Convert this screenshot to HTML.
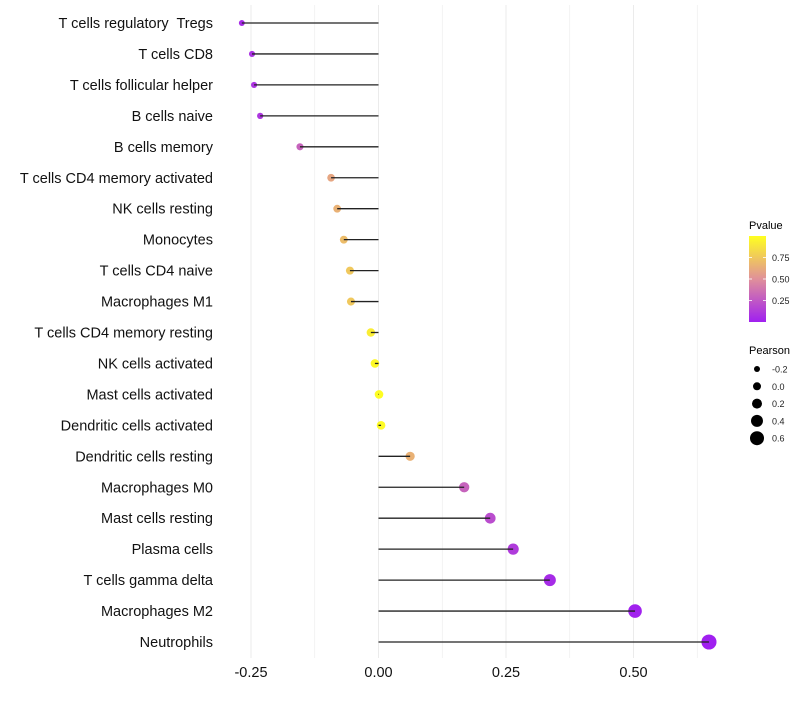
<!DOCTYPE html>
<html><head><meta charset="utf-8"><style>
body{margin:0;background:#fff;}
svg text{font-family:"Liberation Sans",Arial,sans-serif;white-space:pre;}
</style></head><body>
<svg id="chart" width="800" height="700" xmlns="http://www.w3.org/2000/svg">
<defs>
<linearGradient id="pgrad" x1="0" y1="1" x2="0" y2="0">
<stop offset="0" stop-color="#a020f0"/>
<stop offset="0.5" stop-color="#e0909a"/>
<stop offset="1" stop-color="#ffff20"/>
</linearGradient>
</defs>
<g id="grid"></g>
<g id="pts"></g>
<g id="marks"></g>
<g id="labels"></g>
<g id="xticks"></g>
<g>
<text x="749" y="229" font-size="11" fill="#000">Pvalue</text>
<rect x="749" y="236" width="17" height="86" fill="url(#pgrad)"/>
<g id="cbticks"></g>
</g>
<g>
<text x="749" y="354" font-size="11" fill="#000">Pearson</text>
<g id="sizeleg"></g>
</g>
</svg>
<script>
const categories=["T cells regulatory  Tregs","T cells CD8","T cells follicular helper","B cells naive","B cells memory","T cells CD4 memory activated","NK cells resting","Monocytes","T cells CD4 naive","Macrophages M1","T cells CD4 memory resting","NK cells activated","Mast cells activated","Dendritic cells activated","Dendritic cells resting","Macrophages M0","Mast cells resting","Plasma cells","T cells gamma delta","Macrophages M2","Neutrophils"];
const pearson=[-0.268,-0.248,-0.244,-0.232,-0.154,-0.093,-0.081,-0.068,-0.056,-0.054,-0.015,-0.007,0.001,0.005,0.062,0.168,0.219,0.264,0.336,0.503,0.648];
const pvalue=[0.05,0.08,0.09,0.1,0.3,0.6,0.65,0.7,0.75,0.75,0.92,0.97,0.99,0.98,0.65,0.3,0.2,0.12,0.05,0.01,0.002];
const xTicks=[-0.25,0,0.25,0.5];
const xTickLabels=["-0.25","0.00","0.25","0.50"];
const cbTicks=[0.25,0.5,0.75];
const sizeLegend=[-0.2,0,0.2,0.4,0.6];
const NS="http://www.w3.org/2000/svg";
const X=v=>378.5+v*510;
const Y=i=>23+i*30.95;
const R=v=>Math.max(1.8,4.3+v*5);
function mix(a,b,t){return a.map((c,k)=>Math.round(c+(b[k]-c)*t));}
function col(p){const s=[160,32,240],m=[224,144,154],e=[255,255,32];
 const c=p<0.5?mix(s,m,p/0.5):mix(m,e,(p-0.5)/0.5);return `rgb(${c.join(',')})`;}
function mk(tag,attrs,parent){const el=document.createElementNS(NS,tag);for(const k in attrs)el.setAttribute(k,attrs[k]);parent.appendChild(el);return el;}
const grid=document.getElementById('grid'),marks=document.getElementById('marks'),pts=document.getElementById('pts'),labels=document.getElementById('labels'),xt=document.getElementById('xticks');
for(let v=-0.25;v<=0.65;v+=0.125){const g=mk('line',{x1:X(v),x2:X(v),y1:5,y2:658,stroke:'#ebebeb','stroke-width':v*8%2===0?1:0.6},grid);

}
categories.forEach((c,i)=>{
 const y=Y(i);
 const p=mk('circle',{cx:X(pearson[i]),cy:y,r:R(pearson[i]),fill:col(pvalue[i])},pts);
 
 
 const l=mk('line',{x1:X(0),x2:X(pearson[i]),y1:y,y2:y,stroke:'#222','stroke-width':1.3},marks);
 
 
 const t=mk('text',{x:213,y:y+5,'text-anchor':'end','font-size':14.5,fill:'#111'},labels);
 t.textContent=c;
 
 
});
xTicks.forEach((v,i)=>{const t=mk('text',{x:X(v),y:677,'text-anchor':'middle','font-size':14.5,fill:'#111'},xt);t.textContent=xTickLabels[i];
 
 });
const cb=document.getElementById('cbticks');
cbTicks.forEach(v=>{const y=322-v*86;
 mk('line',{x1:749,x2:752,y1:y,y2:y,stroke:'#fff','stroke-width':0.8},cb);
 mk('line',{x1:763,x2:766,y1:y,y2:y,stroke:'#fff','stroke-width':0.8},cb);
 const t=mk('text',{x:772,y:y+3.5,'font-size':9,fill:'#222'},cb);t.textContent=v.toFixed(2);
 
 });
const sl=document.getElementById('sizeleg');
sizeLegend.forEach((v,i)=>{const y=369+i*17.3;
 const c=mk('circle',{cx:757,cy:y,r:3+(v+0.2)*5,fill:'#000'},sl);
 
 
 const t=mk('text',{x:772,y:y+3.5,'font-size':9,fill:'#222'},sl);t.textContent=v.toFixed(1);
 
 });
</script>
</body></html>
